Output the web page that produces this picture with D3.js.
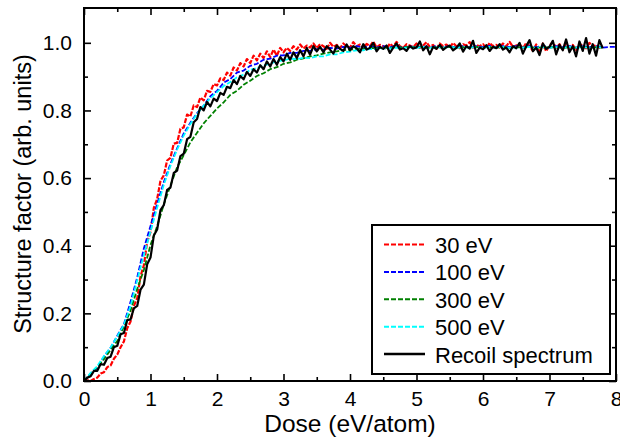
<!DOCTYPE html>
<html>
<head>
<meta charset="utf-8">
<script src="https://cdn.jsdelivr.net/npm/d3@7"></script>
<style>
  body { margin: 0; background: #fff; }
  svg { display: block; font-family: "Liberation Sans", Arial, Helvetica, sans-serif; }
</style>
</head>
<body>
<svg width="620" height="439"></svg>
<script>
  // Sampling grids (eV/atom): fine one for the noisy runs, coarse one for the others.
  const doseFine = d3.range(157).map(i => +(i * 0.05).toFixed(2));    // 0 .. 7.8
  const doseCoarse = d3.range(81).map(i => +(i * 0.1).toFixed(1));    // 0 .. 8.0

  // Values.
  const red30 = [
    0, 0.002, 0, 0.006, 0.01, 0.022, 0.026, 0.041, 0.046, 0.066,
    0.078, 0.1, 0.117, 0.156, 0.176, 0.222, 0.245, 0.31, 0.342, 0.412,
    0.44, 0.512, 0.538, 0.592, 0.608, 0.652, 0.66, 0.702, 0.704, 0.746,
    0.75, 0.788, 0.782, 0.815, 0.81, 0.838, 0.83, 0.858, 0.855, 0.878,
    0.874, 0.895, 0.89, 0.912, 0.903, 0.927, 0.918, 0.94, 0.93, 0.952,
    0.94, 0.962, 0.948, 0.968, 0.955, 0.975, 0.958, 0.98, 0.962, 0.985,
    0.972, 0.985, 0.976, 0.99, 0.98, 0.995, 0.983, 0.992, 0.986, 0.998,
    0.984, 0.996, 0.99, 0.982, 1.0, 0.988, 0.994, 0.984, 0.998, 0.99,
    0.986, 1.002, 0.99, 0.995, 0.983, 0.997, 0.99, 1.004, 0.986, 0.994,
    0.99, 0.982, 0.998, 0.988, 1.003, 0.99, 0.985, 0.996, 0.992, 0.987,
    0.998, 0.985, 0.992, 1.002, 0.988, 0.994, 0.982, 0.998, 0.99, 0.995,
    0.986, 1.0, 0.99, 0.984, 0.996, 0.992, 1.002, 0.986, 0.993, 0.99,
    0.996, 0.984, 1.0, 0.99, 0.994, 0.986, 0.998, 0.99, 1.003, 0.988,
    0.992, 0.996, 0.984, 1.0, 0.99, 0.976, 0.995, 0.97, 0.998, 0.975,
    0.992, 1.002, 0.985, 0.996, 0.98, 1.0, 0.986, 0.994, 0.978, 0.998,
    0.99, 0.984, 1.0, 0.988, 0.994, 0.986, 0.99
  ];

  const recoil = [
    0, 0.01, 0.014, 0.03, 0.03, 0.05, 0.048, 0.068, 0.072, 0.1,
    0.104, 0.138, 0.142, 0.18, 0.182, 0.215, 0.222, 0.27, 0.285, 0.345,
    0.365, 0.43, 0.448, 0.505, 0.52, 0.565, 0.572, 0.615, 0.622, 0.665,
    0.672, 0.715, 0.722, 0.765, 0.775, 0.81, 0.8, 0.825, 0.812, 0.835,
    0.828, 0.852, 0.846, 0.87, 0.866, 0.89, 0.878, 0.902, 0.892, 0.914,
    0.902, 0.922, 0.912, 0.934, 0.922, 0.945, 0.93, 0.952, 0.935, 0.958,
    0.945, 0.968, 0.95, 0.972, 0.955, 0.978, 0.96, 0.985, 0.965, 0.99,
    0.975, 0.988, 0.972, 0.99, 0.98, 0.968, 0.992, 0.982, 0.976, 0.995,
    0.978, 0.99, 0.984, 0.972, 0.996, 0.98, 0.985, 1.0, 0.975, 0.988,
    0.982, 0.992, 0.97, 0.986, 0.998, 0.98, 0.984, 0.976, 0.99, 0.983,
    0.986, 1.004, 0.978, 0.99, 0.966, 0.988, 0.982, 0.994, 0.979, 0.987,
    0.992, 0.978, 0.985, 0.998, 0.974, 0.99, 0.983, 1.006, 0.97, 0.986,
    0.981, 0.993, 0.976, 0.988, 0.984, 0.996, 0.98, 0.986, 0.972, 0.99,
    0.984, 1.0, 0.968, 0.99, 1.008, 0.975, 0.986, 0.964, 0.998, 0.982,
    0.988, 1.006, 0.966, 0.994, 0.978, 1.01, 0.972, 0.99, 0.96, 1.004,
    0.976, 1.014, 0.968, 0.996, 0.962, 1.008, 0.984
  ];

  const blue100 = [
    0, 0.022, 0.038, 0.072, 0.098, 0.134, 0.168, 0.234, 0.306, 0.392,
    0.458, 0.524, 0.588, 0.642, 0.688, 0.732, 0.764, 0.792, 0.814, 0.842,
    0.858, 0.882, 0.893, 0.912, 0.918, 0.932, 0.938, 0.95, 0.953, 0.962,
    0.963, 0.97, 0.97, 0.976, 0.976, 0.981, 0.98, 0.985, 0.983, 0.988,
    0.985, 0.99, 0.986, 0.99, 0.986, 0.99, 0.987, 0.99, 0.986, 0.99,
    0.987, 0.99, 0.986, 0.991, 0.987, 0.99, 0.986, 0.99, 0.987, 0.99,
    0.987, 0.991, 0.986, 0.99, 0.987, 0.99, 0.986, 0.99, 0.987, 0.991,
    0.986, 0.99, 0.987, 0.99, 0.986, 0.99, 0.987, 0.99, 0.986, 0.988,
    0.988
  ];

  const green300 = [
    0, 0.02, 0.042, 0.064, 0.092, 0.118, 0.162, 0.208, 0.272, 0.328,
    0.402, 0.458, 0.522, 0.578, 0.632, 0.668, 0.706, 0.734, 0.762, 0.784,
    0.806, 0.824, 0.846, 0.858, 0.876, 0.888, 0.902, 0.91, 0.922, 0.928,
    0.938, 0.942, 0.95, 0.954, 0.96, 0.963, 0.968, 0.972, 0.975, 0.978,
    0.98, 0.982, 0.983, 0.985, 0.984, 0.986, 0.985, 0.987, 0.986, 0.988,
    0.986, 0.988, 0.985, 0.987, 0.986, 0.988, 0.985, 0.987, 0.986, 0.988,
    0.985, 0.987, 0.986, 0.988, 0.985, 0.987, 0.986, 0.988, 0.985, 0.987,
    0.986, 0.988, 0.985, 0.987, 0.986, 0.988, 0.985, 0.987, 0.986
  ];

  const cyan500 = [
    0, 0.024, 0.044, 0.074, 0.1, 0.132, 0.166, 0.222, 0.298, 0.372,
    0.442, 0.512, 0.58, 0.636, 0.684, 0.726, 0.76, 0.79, 0.814, 0.836,
    0.854, 0.872, 0.884, 0.898, 0.906, 0.92, 0.925, 0.934, 0.938, 0.946,
    0.948, 0.953, 0.952, 0.956, 0.955, 0.96, 0.96, 0.966, 0.966, 0.972,
    0.974, 0.978, 0.978, 0.982, 0.981, 0.984, 0.983, 0.986, 0.984, 0.987,
    0.985, 0.988, 0.985, 0.987, 0.986, 0.988, 0.985, 0.988, 0.986, 0.987,
    0.985, 0.988, 0.986, 0.988, 0.985, 0.987, 0.986, 0.988, 0.985, 0.988,
    0.986, 0.987, 0.985, 0.988, 0.986, 0.987, 0.985, 0.988, 0.986
  ];

  const legendLabels = ["30 eV", "100 eV", "300 eV", "500 eV", "Recoil spectrum"];
  const xTicks = [0, 1, 2, 3, 4, 5, 6, 7, 8];
  const yTicks = [0, 0.2, 0.4, 0.6, 0.8, 1.0];

  const series = [
    { name: legendLabels[0], x: doseFine, y: red30, color: "#ff0000", dash: "5,1.5", w: 2.2 },
    { name: legendLabels[1], x: doseCoarse, y: blue100, color: "#0000ff", dash: "5,2", w: 1.8 },
    { name: legendLabels[2], x: doseCoarse, y: green300, color: "#008000", dash: "5,2", w: 1.8 },
    { name: legendLabels[3], x: doseCoarse, y: cyan500, color: "#00ffff", dash: "5,2", w: 1.8 },
    { name: legendLabels[4], x: doseFine, y: recoil, color: "#000000", dash: null, w: 2.2 }
  ];

  // Layout
  const mLeft = 84, mRight = 616, mTop = 8, mBottom = 381;
  const x = d3.scaleLinear().domain([0, 8]).range([mLeft, mRight]);
  const y = d3.scaleLinear().domain([0, 1.1]).range([mBottom, mTop + 1]);

  const svg = d3.select("svg");

  svg.append("clipPath").attr("id", "plot")
    .append("rect").attr("x", mLeft).attr("y", mTop)
    .attr("width", mRight - mLeft).attr("height", mBottom - mTop);

  // Curves
  const line = d3.line().x(d => x(d[0])).y(d => y(d[1]));
  svg.append("g").attr("clip-path", "url(#plot)")
    .selectAll("path")
    .data(series)
    .join("path")
      .attr("fill", "none")
      .attr("stroke", d => d.color)
      .attr("stroke-width", d => d.w)
      .attr("stroke-dasharray", d => d.dash)
      .attr("stroke-linejoin", "round")
      .attr("d", d => line(d.y.map((v, i) => [d.x[i], v])));

  // Axes: ticks on all four sides pointing inward
  const fmt = d3.format(".1f");
  const axes = svg.append("g");

  const xMinorVals = xTicks.slice(0, -1).map(v => v + 0.5);
  const yMinorVals = [0.1, 0.3, 0.5, 0.7, 0.9];

  const xBottom = d3.axisBottom(x).tickValues(xTicks).tickFormat(d3.format("d"))
      .tickSizeInner(-7).tickSizeOuter(0).tickPadding(10);
  const xBottomMinor = d3.axisBottom(x).tickValues(xMinorVals).tickFormat("")
      .tickSizeInner(-4).tickSizeOuter(0);
  const xTop = d3.axisTop(x).tickValues(xTicks).tickFormat("").tickSizeInner(-7).tickSizeOuter(0);
  const xTopMinor = d3.axisTop(x).tickValues(xMinorVals).tickFormat("")
      .tickSizeInner(-4).tickSizeOuter(0);
  const yLeft = d3.axisLeft(y).tickValues(yTicks).tickFormat(fmt)
      .tickSizeInner(-7).tickSizeOuter(0).tickPadding(12);
  const yLeftMinor = d3.axisLeft(y).tickValues(yMinorVals).tickFormat("")
      .tickSizeInner(-4).tickSizeOuter(0);
  const yRight = d3.axisRight(y).tickValues(yTicks).tickFormat("").tickSizeInner(-7).tickSizeOuter(0);
  const yRightMinor = d3.axisRight(y).tickValues(yMinorVals).tickFormat("")
      .tickSizeInner(-4).tickSizeOuter(0);

  [[xBottom, `translate(0,${mBottom})`], [xBottomMinor, `translate(0,${mBottom})`],
   [xTop, `translate(0,${mTop})`], [xTopMinor, `translate(0,${mTop})`],
   [yLeft, `translate(${mLeft},0)`], [yLeftMinor, `translate(${mLeft},0)`],
   [yRight, `translate(${mRight},0)`], [yRightMinor, `translate(${mRight},0)`]]
    .forEach(([ax, tr]) => {
      const g = axes.append("g").attr("transform", tr).call(ax);
      g.attr("font-family", null).attr("font-size", null);
      g.select(".domain").remove();
      g.selectAll("line").attr("stroke", "#000").attr("stroke-width", 1.6);
      g.selectAll("text").attr("fill", "#000").style("font-size", "21px");
    });

  // Frame
  svg.append("rect")
      .attr("x", mLeft).attr("y", mTop)
      .attr("width", mRight - mLeft).attr("height", mBottom - mTop)
      .attr("fill", "none").attr("stroke", "#000").attr("stroke-width", 2);

  // Axis titles
  svg.append("text")
      .attr("x", (mLeft + mRight) / 2).attr("y", 432)
      .attr("text-anchor", "middle").style("font-size", "24.5px")
      .text("Dose (eV/atom)");
  svg.append("text")
      .attr("transform", "translate(31,194) rotate(-90)")
      .attr("text-anchor", "middle").style("font-size", "23.5px")
      .text("Structure factor (arb. units)");

  // Legend
  const legend = svg.append("g");
  legend.append("rect")
      .attr("x", 372).attr("y", 225).attr("width", 238).attr("height", 149)
      .attr("fill", "#fff").attr("stroke", "#000").attr("stroke-width", 2);
  const rows = legend.selectAll("g.row")
    .data(series)
    .join("g").attr("class", "row")
      .attr("transform", (d, i) => `translate(0,${244.5 + i * 27.4})`);
  rows.append("line")
      .attr("x1", 384).attr("x2", 425)
      .attr("stroke", d => d.color)
      .attr("stroke-width", d => d.dash ? 2 : 2.5)
      .attr("stroke-dasharray", d => d.dash ? "5,2" : null);
  rows.append("text")
      .attr("x", 435).attr("y", 1)
      .attr("dominant-baseline", "central")
      .style("font-size", "22px")
      .text(d => d.name);
</script>
</body>
</html>
